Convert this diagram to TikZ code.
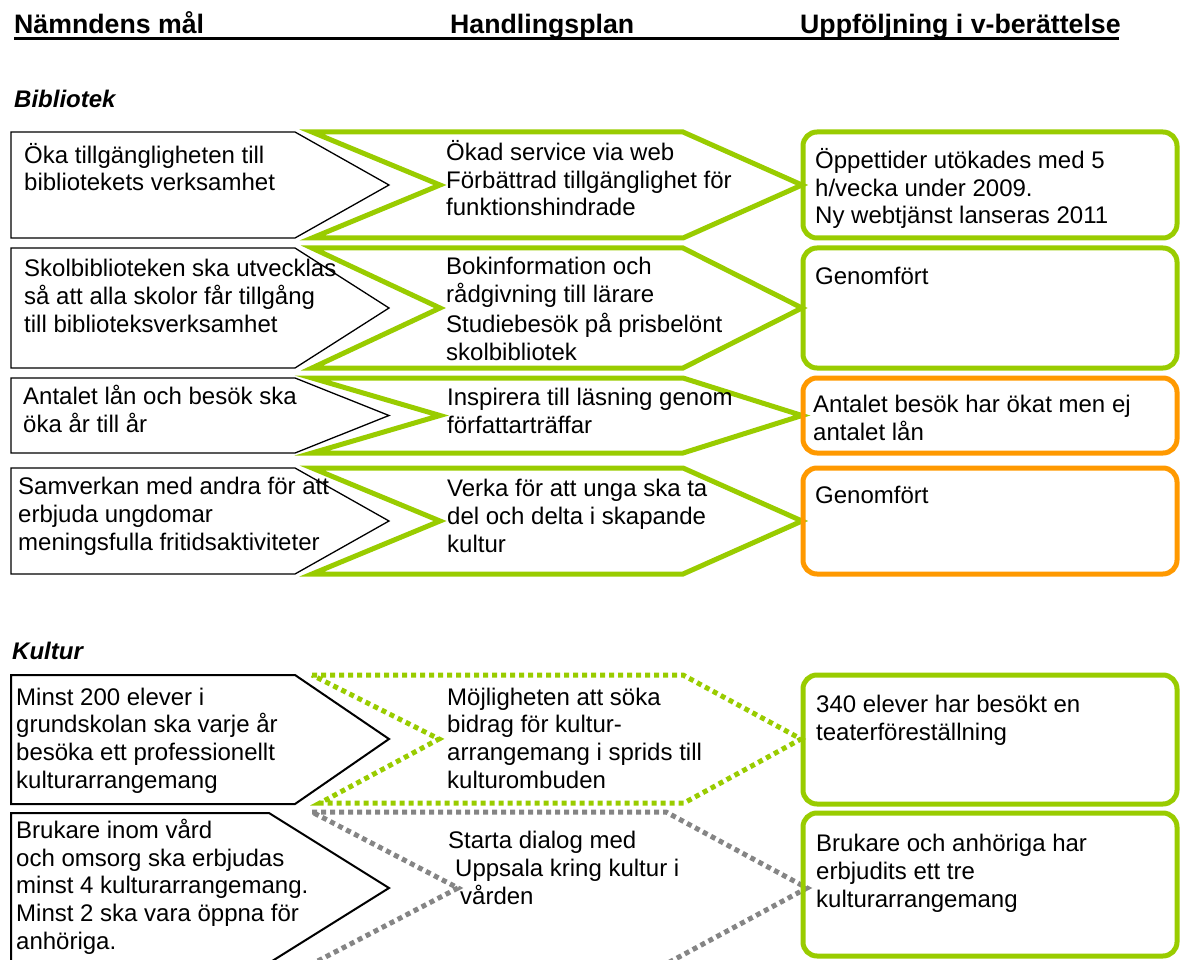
\documentclass[tikz,border=0pt]{standalone}
\usepackage{fontspec}
\setmainfont{Liberation Sans}
\definecolor{lgreen}{HTML}{99CC00}
\definecolor{lorange}{HTML}{FF9900}
\definecolor{dgray}{HTML}{858585}
\begin{document}
\begin{tikzpicture}[x=1pt,y=-1pt,
  goal/.style={draw=black, line width=1.3pt, line join=miter},
  goalk/.style={draw=black, line width=2pt, line join=miter},
  plan/.style={draw=lgreen, line width=5pt, line join=miter},
  plandot/.style={draw=lgreen, line width=5pt, line join=miter, dash pattern=on 5pt off 4pt},
  plangray/.style={draw=dgray, line width=5pt, line join=miter, dash pattern=on 5pt off 4pt},
  resg/.style={draw=lgreen, line width=5pt, rounded corners=14pt},
  reso/.style={draw=lorange, line width=5pt, rounded corners=14pt},
  txt/.style={anchor=base west, align=left, inner sep=0pt, font=\fontsize{24}{27.6}\selectfont},
  head/.style={anchor=base west, inner sep=0pt, font=\fontsize{26.7}{30}\selectfont\bfseries},
  sect/.style={anchor=base west, inner sep=0pt, font=\fontsize{24}{28}\selectfont\bfseries\itshape}]
\useasboundingbox (0,0) rectangle (1181,960);
\clip (0,0) rectangle (1181,960);

% headers
\node[head] (h1) at (14,34) {Nämndens mål};
\node[head] (h2) at (450,34) {Handlingsplan};
\node[head] (h3) at (800,34) {Uppföljning i v-berättelse};
\draw[line width=3pt] (14,38.5) -- (1119,38.5);

\node[sect] (sb) at (14,108) {Bibliotek};
\node[sect] (sk) at (12,659) {Kultur};

% Bibliotek shapes
\foreach \t/\m/\b in {132/185/238, 248/308/368, 378/415.5/453, 468/521/574}{
  \draw[goal] (11,\t) -- (295,\t) -- (389,\m) -- (295,\b) -- (11,\b) -- cycle;
  \draw[plan] (312,\t) -- (683,\t) -- (802,\m) -- (683,\b) -- (312,\b) -- (440,\m) -- cycle;
}
\draw[resg] (803,132) rectangle (1177,238);
\draw[resg] (803,248) rectangle (1177,368);
\draw[reso] (803,378) rectangle (1177,453);
\draw[reso] (803,468) rectangle (1177,574);

% Kultur shapes
\draw[goalk] (11,675) -- (295,675) -- (389,739) -- (295,804) -- (11,804) -- cycle;
\draw[goalk] (11,813) -- (269,813) -- (389,888) -- (269,963) -- (11,963) -- cycle;
\draw[plandot] (312,675) -- (683,675) -- (801,739) -- (684,803) -- (320,803) -- (439,739) -- cycle;
\draw[plangray] (312,812) -- (666,812) -- (807,888) -- (666,964) -- (312,964) -- (458,888) -- cycle;
\draw[resg] (803,675) rectangle (1177,804);
\draw[resg] (803,813) rectangle (1177,956);

% Bibliotek texts (anchor = baseline of the last line)
\node[txt] (r1l) at (24,191) {Öka tillgängligheten till\\bibliotekets verksamhet};
\node[txt] (r1m) at (446,216) {Ökad service via web\\Förbättrad tillgänglighet för\\funktionshindrade};
\node[txt] (r1r) at (815,224) {Öppettider utökades med 5\\h/vecka under 2009.\\Ny webtjänst lanseras 2011};
\node[txt] (r2l) at (24,332) {Skolbiblioteken ska utvecklas\\så att alla skolor får tillgång\\till biblioteksverksamhet};
\node[txt] (r2m) at (446,360) {Bokinformation och\\rådgivning till lärare\\[2.5pt]Studiebesök på prisbelönt\\skolbibliotek};
\node[txt] (r2r) at (815,284) {Genomfört};
\node[txt] (r3l) at (23,432) {Antalet lån och besök ska\\öka år till år};
\node[txt] (r3m) at (447,433) {Inspirera till läsning genom\\författarträffar};
\node[txt] (r3r) at (813,440) {Antalet besök har ökat men ej\\antalet lån};
\node[txt] (r4l) at (18,550) {Samverkan med andra för att\\erbjuda ungdomar\\meningsfulla fritidsaktiviteter};
\node[txt] (r4m) at (447,552) {Verka för att unga ska ta\\del och delta i skapande\\kultur};
\node[txt] (r4r) at (815,503) {Genomfört};

% Kultur texts
\node[txt] (k1l) at (16,788) {Minst 200 elever i\\grundskolan ska varje år\\besöka ett professionellt\\kulturarrangemang};
\node[txt] (k1m) at (447,788) {Möjligheten att söka\\bidrag för kultur-\\arrangemang i sprids till\\kulturombuden};
\node[txt] (k1r) at (816,740) {340 elever har besökt en\\teaterföreställning};
\node[txt] (k2l) at (16,949) {Brukare inom vård\\och omsorg ska erbjudas\\minst 4 kulturarrangemang.\\Minst 2 ska vara öppna för\\anhöriga.};
\node[txt] (k2m) at (448,904) {Starta dialog med\\\hspace*{7pt}Uppsala kring kultur i\\\hspace*{12pt}vården};
\node[txt] (k2r) at (816,907) {Brukare och anhöriga har\\erbjudits ett tre\\kulturarrangemang};
\end{tikzpicture}
\end{document}
